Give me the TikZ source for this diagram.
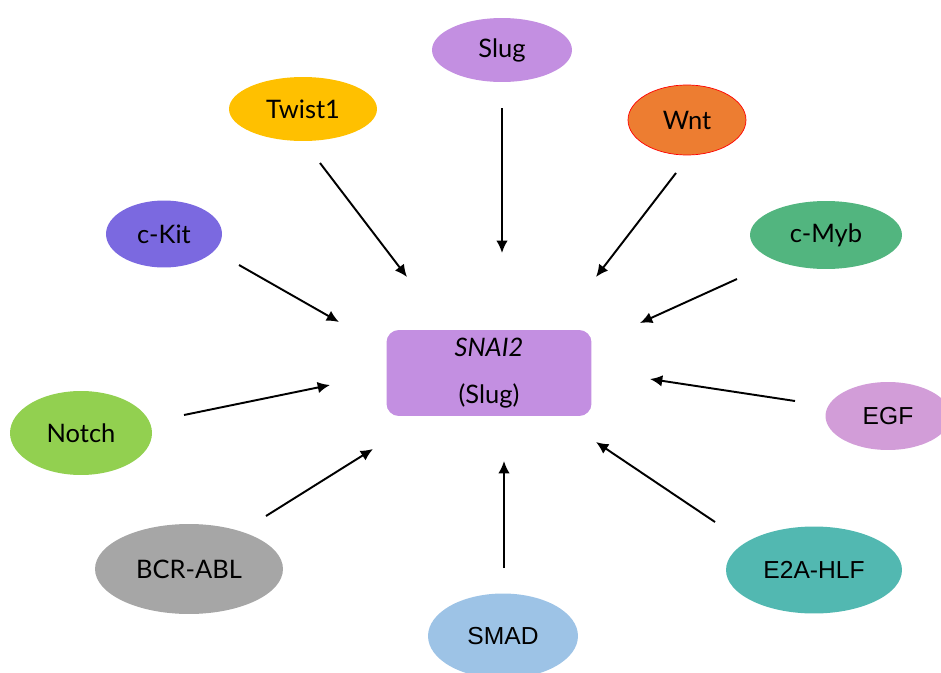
\documentclass[tikz,border=0pt]{standalone}
\usepackage{fontspec}
\setmainfont{Lato}
\newfontfamily\plainsans{Liberation Sans}
\usetikzlibrary{arrows.meta,shapes.geometric}
\usepackage{xcolor}
\definecolor{lilac}{HTML}{C38FE1}
\definecolor{gold}{HTML}{FFC000}
\definecolor{tangerine}{HTML}{ED7D31}
\definecolor{slateblue}{HTML}{7B69E0}
\definecolor{jade}{HTML}{52B57F}
\definecolor{lime}{HTML}{92D050}
\definecolor{orchid}{HTML}{D29DD8}
\definecolor{ash}{HTML}{A6A6A6}
\definecolor{skyblue}{HTML}{9DC3E6}
\definecolor{seafoam}{HTML}{52B8B1}

\begin{document}
\begin{tikzpicture}[
  x=0.02cm, y=-0.02cm,
  font=\fontsize{14.5}{17}\selectfont,
  gene/.style={ellipse, draw=none, inner sep=0pt},
  plain/.style={font=\plainsans\fontsize{14}{17}\selectfont},
  target/.style={fill=lilac, rounded corners=7pt, minimum width=4.1cm, minimum height=1.72cm, align=center, inner sep=2pt},
  arr/.style={-{Latex[length=7pt,width=6.5pt]}, line width=1.1pt}
]
\useasboundingbox (0,0) rectangle (941,673);

% ---- centre: the target gene ----
\node[target] (snai) at (489,373) {\textit{SNAI2}\\[10pt](Slug)};

% ---- regulators, top half ----
\node[gene, fill=lilac, minimum width=2.8cm, minimum height=1.28cm] (slug) at (502,50) {Slug};
\node[gene, fill=gold, minimum width=2.96cm, minimum height=1.28cm] (twist) at (303,109) {Twist1};
\node[gene, fill=tangerine, draw=red, thin, minimum width=2.36cm, minimum height=1.4cm] (wnt) at (687,120) {Wnt};
\node[gene, fill=slateblue, minimum width=2.32cm, minimum height=1.34cm] (ckit) at (164,234) {c-Kit};
\node[gene, fill=jade, minimum width=3.04cm, minimum height=1.36cm] (cmyb) at (826,235) {c-Myb};

% ---- regulators, bottom half ----
\node[gene, fill=lime, minimum width=2.84cm, minimum height=1.68cm] (notch) at (81,433) {Notch};
\node[gene, plain, fill=orchid, minimum width=2.5cm, minimum height=1.36cm] (egf) at (888,416) {EGF};
\node[gene, fill=ash, minimum width=3.76cm, minimum height=1.8cm] (bcr) at (189,569) {BCR-ABL};
\node[gene, plain, fill=skyblue, minimum width=3.0cm, minimum height=1.7cm] (smad) at (503,636) {SMAD};
\node[gene, plain, fill=seafoam, minimum width=3.52cm, minimum height=1.74cm] (e2a) at (814,570) {E2A-HLF};

% ---- arrow ends (arrows stop short of both shapes) ----
\coordinate (slug-out) at (502,108);   \coordinate (slug-in) at (502,253);
\coordinate (twist-out) at (320,163);  \coordinate (twist-in) at (407,277);
\coordinate (wnt-out) at (676,173);    \coordinate (wnt-in) at (596,277);
\coordinate (ckit-out) at (239,265);   \coordinate (ckit-in) at (339,322);
\coordinate (cmyb-out) at (737,279);   \coordinate (cmyb-in) at (640,323);
\coordinate (notch-out) at (184,415);  \coordinate (notch-in) at (330,385);
\coordinate (egf-out) at (795,401);    \coordinate (egf-in) at (650,379);
\coordinate (bcr-out) at (266,516);    \coordinate (bcr-in) at (373,449);
\coordinate (smad-out) at (504,568);   \coordinate (smad-in) at (504,461);
\coordinate (e2a-out) at (715,522);    \coordinate (e2a-in) at (596,442);

\draw[arr] (slug-out) -- (slug-in);
\draw[arr] (twist-out) -- (twist-in);
\draw[arr] (wnt-out) -- (wnt-in);
\draw[arr] (ckit-out) -- (ckit-in);
\draw[arr] (cmyb-out) -- (cmyb-in);
\draw[arr] (notch-out) -- (notch-in);
\draw[arr] (egf-out) -- (egf-in);
\draw[arr] (bcr-out) -- (bcr-in);
\draw[arr] (smad-out) -- (smad-in);
\draw[arr] (e2a-out) -- (e2a-in);

\end{tikzpicture}
\end{document}
